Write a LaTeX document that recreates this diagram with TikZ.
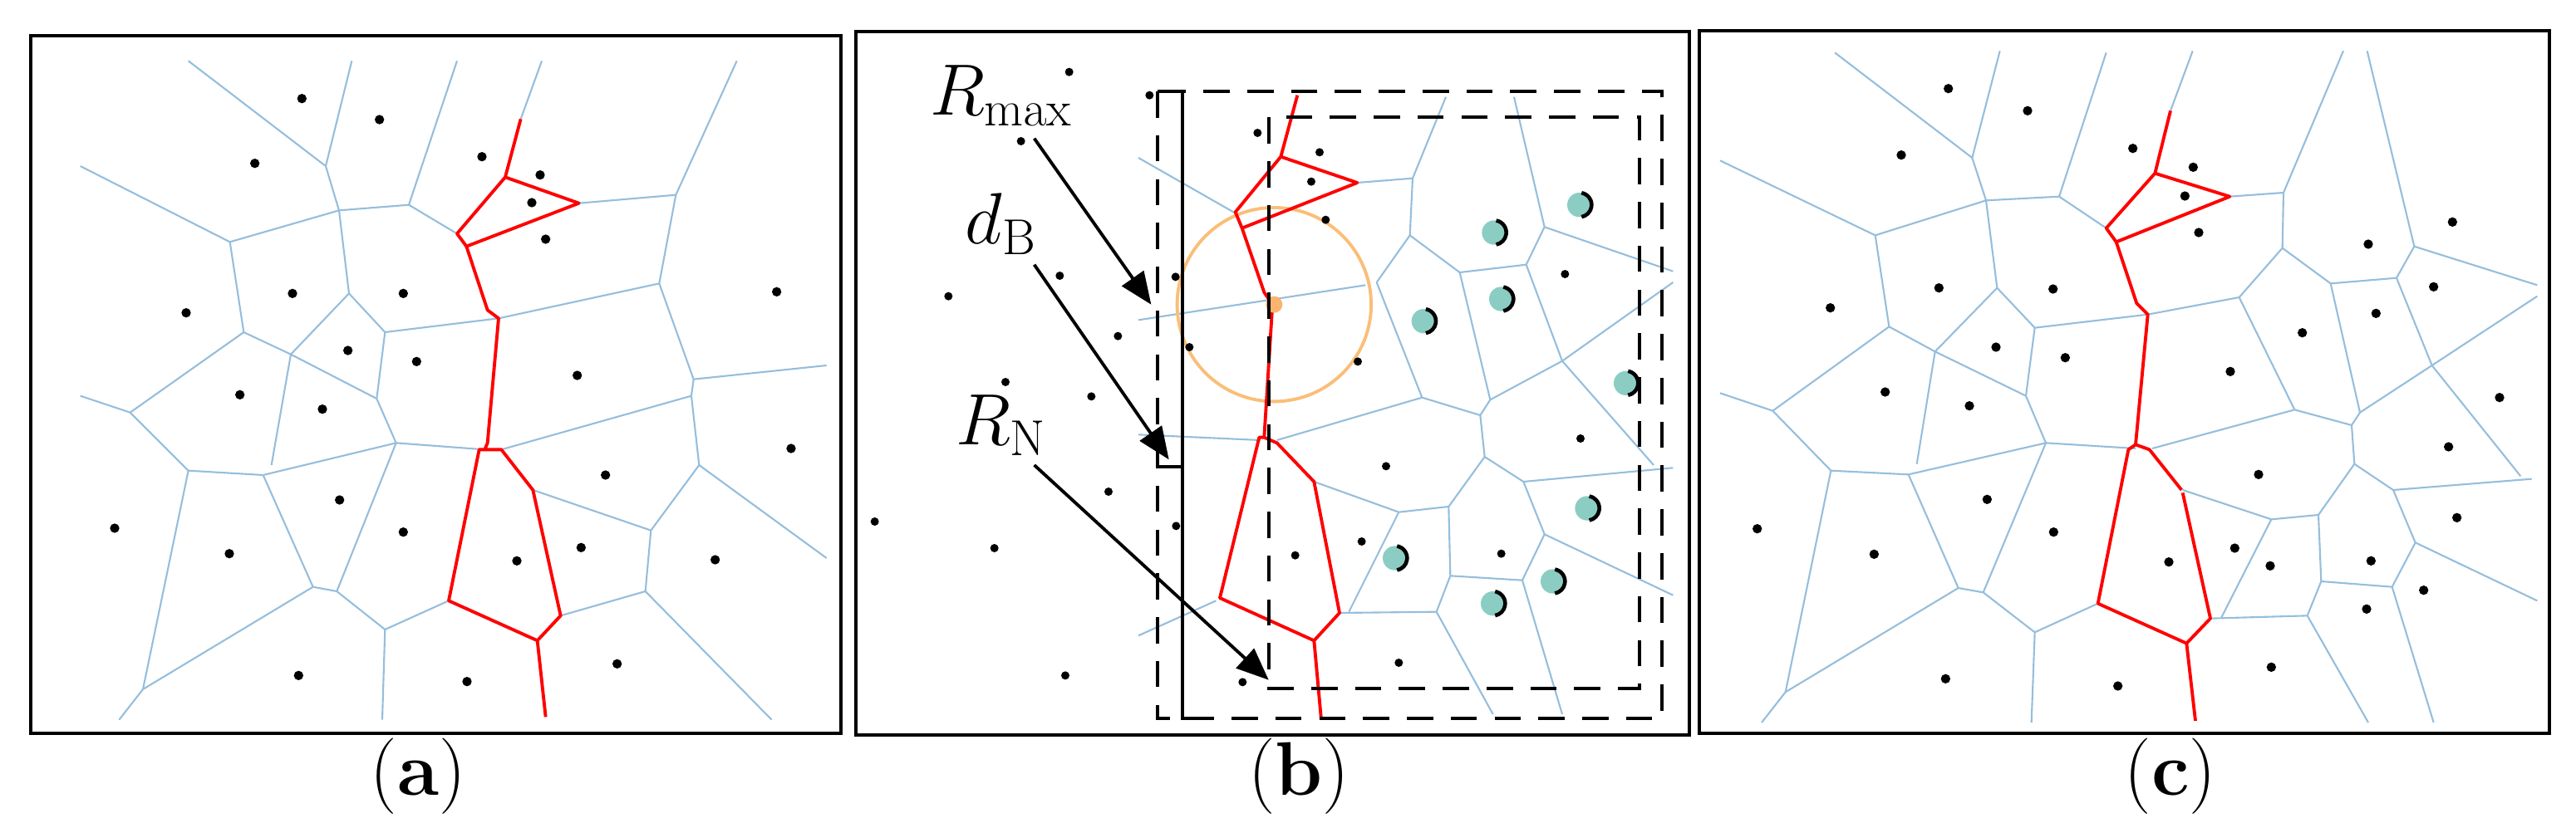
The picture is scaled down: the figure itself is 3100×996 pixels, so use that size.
\documentclass[tikz,border=0pt]{standalone}
\usetikzlibrary{arrows.meta}
\definecolor{vblue}{RGB}{150,190,220}
\definecolor{orng}{RGB}{250,190,120}
\definecolor{orngd}{RGB}{250,180,110}
\definecolor{teal2}{RGB}{140,205,195}
\begin{document}
\begin{tikzpicture}[x=0.01cm,y=-0.01cm,
  vor/.style={draw=vblue,line width=0.6pt},
  path/.style={draw=red,line width=1.1pt,line join=round},
  frame/.style={draw=black,line width=1.1pt},
  dot/.style={fill=black},
  dsh/.style={draw=black,line width=1.2pt,dash pattern=on 9pt off 6pt},
  arr/.style={draw=black,line width=1.1pt,-{Triangle[length=11pt,width=9pt]}},
  lab/.style={font=\fontsize{26}{30}\selectfont},
  sym/.style={font=\fontsize{26}{30}\selectfont}]
\useasboundingbox (0,0) rectangle (3100,996);
\draw[frame] (37,43) rectangle (1012,883);
\draw[frame] (1030,38) rectangle (2033,885);
\draw[frame] (2045,37) rectangle (3068,883);
\node[lab] (la) at (503,935) {(\textbf{a})};
\node[lab] (lb) at (1563,935) {(\textbf{b})};
\node[lab] (lc) at (2612,935) {(\textbf{c})};

% ---------- panel a ----------
\begin{scope}[scale=2/3]
\foreach \x/\y/\u/\v in {340/110/588/300,635/110/588/300,588/300/612/380,612/380/738/370,825/110/738/370,738/370/825/422,
145/300/415/437,415/437/612/380,612/380/630/530,415/437/440/600,630/530/525/640,630/530/695/600,440/600/525/640,525/640/680/720,
695/600/680/720,695/600/900/575,440/600/235/745,145/715/235/745,235/745/340/850,525/640/490/840,680/720/715/800,340/850/475/858,
475/858/715/800,715/800/875/812,340/850/258/1245,215/1300/258/1245,258/1245/565/1060,475/858/565/1060,715/800/608/1068,565/1060/608/1068,
608/1068/695/1137,695/1137/810/1085,690/1300/695/1137,978/110/940/215,1045/367/1220/352,1330/110/1220/352,1220/352/1190/512,
900/575/1190/512,1190/512/1252/685,1252/685/1492/660,1252/685/1248/715,905/812/1248/715,1248/715/1262/840,1262/840/1492/1008,
1262/840/1175/958,962/885/1175/958,1175/958/1165/1068,1012/1112/1165/1068,1165/1068/1393/1300}
  \draw[vor] (\x,\y) -- (\u,\v);
\draw[path] (940,215)--(912,320)--(825,422)--(842,445)--(1045,367)--(912,320);
\draw[path] (842,445)--(880,560)--(900,575)--(880,800)--(875,812)--(905,812)--(962,885)--(1012,1112)--(970,1157)--(810,1085)--(865,812)--(875,812);
\draw[path] (970,1157)--(985,1295);
\foreach \x/\y in {545/178,685/216,460/295,870/283,975/316,960/366,985/432,528/530,728/530,336/565,1402/527,628/633,752/653,
1042/678,433/713,582/739,1428/810,1093/858,613/903,207/954,728/961,414/1000,933/1013,1049/989,1291/1011,539/1220,843/1231,1114/1199}
  \fill[dot] (\x,\y) circle (0.085cm);
\end{scope}

% ---------- panel b ----------
\begin{scope}[shift={(1030,0)},scale=2/3]
\foreach \x/\y/\u/\v in {510/285/685/385,510/578/920/515,510/785/730/795,510/1148/650/1085,905/330/1005/322,1065/175/1005/322,
1005/322/1000/425,1000/425/940/510,1000/425/1090/492,1090/492/1210/478,1188/175/1243/410,1243/410/1210/478,1243/410/1475/490,
940/510/1022/718,1090/492/1145/722,1210/478/1275/652,1275/652/1475/510,1275/652/1145/722,1275/652/1440/840,1022/718/1127/750,
1145/722/1127/750,760/795/1022/718,1127/750/1135/825,1135/825/1205/870,1205/870/1475/845,1205/870/1243/965,1243/965/1475/1075,
1243/965/1203/1048,1135/825/1070/915,827/870/980/925,980/925/1070/915,1070/915/1073/1040,1073/1040/1203/1048,1203/1048/1275/1290,
1073/1040/1048/1105,980/925/890/1105,873/1107/1048/1105,1048/1105/1150/1290}
  \draw[vor] (\x,\y) -- (\u,\v);
\draw[draw=orng,line width=1.1pt] (755,550) circle (1.75cm);
\draw[path] (797,172)--(767,283)--(685,383)--(697,412)--(905,330)--(767,283);
\draw[path] (697,412)--(737,528)--(752,550)--(737,790)--(760,800)--(827,870)--(873,1107)--(827,1157)--(657,1080)--(728,790)--(737,790);
\draw[path] (827,1157)--(840,1300);
\fill[orngd] (755,550) circle (0.15cm);
\foreach \x/\y in {385/130,530/172,298/255,725/240,837/275,822/328,848/397,368/498,167/535,577/500,473/607,602/627,906/653,
270/690,425/716,957/842,456/888,34/942,578/950,250/990,913/978,793/1003,1280/495,1308/792,1165/1000,980/1197,378/1220,698/1232}
  \fill[dot] (\x,\y) circle (0.075cm);
\foreach \x/\y in {1152/420,1306/370,1165/540,1025/580,1390/692,1320/918,973/1008,1258/1050,1150/1090}{
  \fill[teal2] (\x,\y) circle (0.22cm);
  \draw[black,line width=1.3pt] (\x,\y) ++(80:0.22cm) arc[start angle=80,end angle=-80,radius=0.22cm];
}
\draw[dsh] (545,165) rectangle (1455,1298);
\draw[dsh] (745,212) rectangle (1415,1243);
\draw[black,line width=1.1pt] (545,165) -- (590,165) -- (590,1297) -- (610,1297);
\draw[black,line width=1.1pt] (545,843) -- (590,843);
\coordinate (pR) at (533,550);
\coordinate (pd) at (565,830);
\coordinate (pN) at (745,1228);
\node[sym,anchor=center] (Rm) at (262,172) {$R_{\mathrm{max}}$};
\node[sym,anchor=center] (dB) at (262,405) {$d_{\mathrm{B}}$};
\node[sym,anchor=center] (RN) at (262,768) {$R_{\mathrm{N}}$};
\draw[arr] (322,250) -- (pR);
\draw[arr] (322,478) -- (pd);
\draw[arr] (322,840) -- (pN);
\end{scope}

% ---------- panel c ----------
\begin{scope}[shift={(2060,0)},scale=2/3]
\foreach \x/\y/\u/\v in {222/95/470/285,520/92/470/285,470/285/495/362,495/362/627/355,712/95/627/355,627/355/712/412,
15/290/295/425,295/425/495/362,495/362/515/520,295/425/320/590,515/520/403/635,515/520/583/592,320/590/403/635,403/635/567/715,
583/592/567/715,583/592/787/568,320/590/110/742,15/710/110/742,110/742/215/850,403/635/370/838,567/715/603/800,215/850/355/857,
355/857/603/800,603/800/765/810,215/850/133/1250,90/1305/133/1250,133/1250/445/1062,355/857/445/1062,603/800/490/1070,
445/1062/490/1070,490/1070/583/1142,583/1142/697/1090,577/1305/583/1142,868/92/828/200,935/355/1032/348,1140/92/1032/348,
1183/92/1268/445,1032/348/1030/448,1030/448/952/537,787/568/952/537,1030/448/1117/512,1117/512/1236/502,1268/445/1236/502,
1268/445/1490/515,952/537/1052/740,1117/512/1170/745,1236/502/1300/660,1300/660/1490/535,1300/660/1170/745,1300/660/1460/860,
1052/740/1155/768,1170/745/1155/768,795/810/1052/740,1155/768/1160/838,1160/838/1230/885,1230/885/1480/865,1230/885/1270/980,
1270/980/1490/1085,1270/980/1228/1060,1160/838/1095/930,850/885/1010/938,1010/938/1095/930,1095/930/1100/1050,1100/1050/1228/1060,
1228/1060/1303/1305,1100/1050/1075/1112,1010/938/920/1115,900/1117/1075/1112,1075/1112/1185/1305}
  \draw[vor] (\x,\y) -- (\u,\v);
\draw[path] (828,200)--(800,313)--(712,412)--(730,437)--(935,355)--(800,313);
\draw[path] (730,437)--(767,548)--(787,568)--(765,803)--(790,812)--(848,885);
\draw[path] (850,890)--(900,1117)--(857,1162)--(697,1090)--(752,812)--(765,803);
\draw[path] (857,1162)--(873,1302);
\foreach \x/\y in {427/160,570/200,342/280,760/268,869/302,854/354,879/420,1337/401,1185/441,410/520,616/522,214/556,1303/518,
1199/566,513/627,638/646,1066/601,936/671,313/708,465/733,1422/718,1330/807,987/857,497/902,82/955,617/961,293/1001,825/1015,
944/990,1008/1022,1345/935,1190/1013,1285/1066,1182/1100,422/1226,733/1239,1010/1205}
  \fill[dot] (\x,\y) circle (0.085cm);
\end{scope}
\end{tikzpicture}
\end{document}
